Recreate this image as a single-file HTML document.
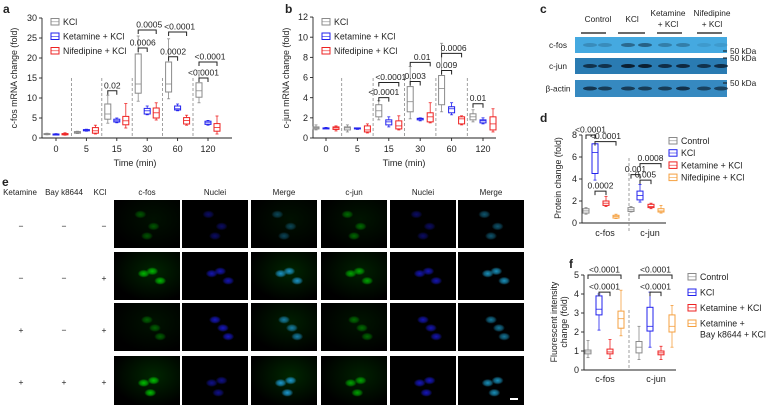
<!DOCTYPE html>
<html><head><meta charset="utf-8"><style>
body{margin:0;background:#fff;width:766px;height:405px;overflow:hidden;position:relative;font-family:"Liberation Sans",sans-serif}
svg{position:absolute;left:0;top:0}
text{font-family:"Liberation Sans",sans-serif;fill:#222}
.cell{position:absolute;background:#000;overflow:hidden}
</style></head><body>
<svg id="fig" width="766" height="405"></svg>
<div id="grid"></div>
<script>
// ---------- DATA ----------
const timeCats=["0","5","15","30","60","120"];
const seriesA_KCl=[[0.8,0.9,1,1.1,1.2],[1.1,1.2,1.4,1.6,1.7],[3.7,4.7,6,8.5,10.7],[9.2,11.2,13.5,21,25.5],[9.8,11.5,13.5,19,24.8],[8.8,10.2,11.8,13.8,16.9]];
const seriesA_Ket=[[0.9,1,1,1,1.1],[1.7,1.8,2,2.1,2.2],[3.8,4,4.3,4.7,5],[5.8,6,6.8,7.4,8],[6.8,7,7.3,8,8.5],[3.2,3.4,3.8,4.2,4.4]];
const seriesA_Nif=[[0.7,0.8,1,1.1,1.3],[1,1.2,1.8,2.6,3.2],[2.5,3.3,4.3,5.4,8.6],[4.5,5,6.3,7.5,8.8],[3.2,3.5,4.4,5.1,5.7],[1,1.7,2.6,3.6,5.5]];
const seriesB_KCl=[[0.8,0.9,1,1.1,1.3],[0.6,0.8,1,1.1,1.3],[1.8,2.1,2.7,3.3,3.7],[1.9,2.6,3.6,5.1,7.1],[2.6,3.3,4.9,6.2,9.4],[1.6,1.8,2.1,2.4,2.8]];
const seriesB_Ket=[[0.95,1,1,1,1.05],[0.85,0.9,0.95,1,1],[1.1,1.3,1.6,1.8,2.1],[1.7,1.8,1.9,1.95,2],[2.3,2.5,2.9,3.1,3.5],[1.4,1.5,1.7,1.8,2]];
const seriesB_Nif=[[0.7,0.85,1,1.1,1.2],[0.5,0.6,0.8,1.2,1.4],[0.8,0.9,1.2,1.7,2.2],[1.5,1.6,2.1,2.5,3.5],[1.3,1.4,1.9,2.1,2.2],[0.6,0.8,1.4,2.1,2.9]];
const protCats=["c-fos","c-jun"];
const seriesD_Ctrl=[[0.8,0.9,1.1,1.3,1.4],[1,1.05,1.2,1.4,1.5]];
const seriesD_KCl=[[3.9,4.5,6.4,7.2,7.2],[1.9,2.1,2.5,2.9,3.5]];
const seriesD_Ket=[[1.5,1.6,1.8,2,2.4],[1.3,1.4,1.5,1.7,1.8]];
const seriesD_Nif=[[0.4,0.45,0.6,0.7,0.8],[0.9,1,1.1,1.3,1.6]];
const seriesF_Ctrl=[[0.65,0.85,0.95,1.05,1.55],[0.55,0.9,1.2,1.5,2.3]];
const seriesF_KCl=[[2.1,2.9,3.2,3.9,4],[1.2,2.05,2.3,3.3,4.1]];
const seriesF_Ket=[[0.6,0.85,0.95,1.1,1.6],[0.55,0.8,0.9,1.0,1.25]];
const seriesF_Bay=[[1.8,2.2,2.7,3.1,4.2],[1.2,2,2.3,2.9,3.4]];
const ticksA=[0,5,10,15,20,25,30];
const ticksB=[0,2,4,6,8,10,12];
const ticksD=[0,2,4,6,8];
const ticksF=[0,1,2,3,4,5];
const bracketsA=[[2,0,1,11.8,"0.02"],[3,0,2,27,"0.0005"],[3,0,1,22.5,"0.0006"],[4,0,2,26.5,"<0.0001"],[4,0,1,20.3,"0.0002"],[5,0,2,19,"<0.0001"],[5,0,1,15,"<0.0001"]];
const bracketsB=[[2,0,2,5.5,"<0.0001"],[2,0,1,4,"<0.0001"],[3,0,2,7.5,"0.01"],[3,0,1,5.6,"0.003"],[4,0,2,8.4,"0.0006"],[4,0,1,6.7,"0.009"],[5,0,1,3.4,"0.01"]];
const bracketsD=[[0,0,1,8,"<0.0001"],[0,1,3,7.4,"<0.0001"],[0,1,2,2.9,"0.0002"],[1,0,1,4.4,"0.001"],[1,1,3,5.4,"0.0008"],[1,1,2,3.9,"0.005"]];
const bracketsF=[[0,0,3,5,"<0.0001"],[0,1,2,4.1,"<0.0001"],[1,0,3,5,"<0.0001"],[1,1,2,4.1,"<0.0001"]];

const NS="http://www.w3.org/2000/svg";
const svg=document.getElementById('fig');
function mk(tag,attrs,parent){const e=document.createElementNS(NS,tag);for(const k in attrs)e.setAttribute(k,attrs[k]);(parent||svg).appendChild(e);return e;}
function txt(x,y,s,size,anchor,parent,bold){const t=mk('text',{x:x,y:y,'font-size':size||8,'text-anchor':anchor||'middle'},parent);if(bold)t.setAttribute('font-weight','bold');t.textContent=s;return t;}
const GRAY='#8a8a8a',BLUE='#2222ee',RED='#ee2222',ORANGE='#f5a040';

function boxplot(g,xc,ys,d,color,w){
  const [mn,q1,md,q3,mx]=d.map(ys);
  mk('line',{x1:xc,x2:xc,y1:mx,y2:q3,stroke:color,'stroke-width':0.8},g);
  mk('line',{x1:xc,x2:xc,y1:q1,y2:mn,stroke:color,'stroke-width':0.8},g);
  mk('line',{x1:xc-w/4,x2:xc+w/4,y1:mx,y2:mx,stroke:color,'stroke-width':0.8},g);
  mk('line',{x1:xc-w/4,x2:xc+w/4,y1:mn,y2:mn,stroke:color,'stroke-width':0.8},g);
  mk('rect',{x:xc-w/2,y:q3,width:w,height:Math.max(q1-q3,1),fill:'#fff',stroke:color,'stroke-width':1},g);
  mk('line',{x1:xc-w/2,x2:xc+w/2,y1:md,y2:md,stroke:color,'stroke-width':0.8},g);
}
function axisY(g,x,ys,ticks,x2){
  mk('line',{x1:x,x2:x,y1:ys(ticks[ticks.length-1]),y2:ys(0),stroke:'#222','stroke-width':0.9},g);
  ticks.forEach(t=>{mk('line',{x1:x-3,x2:x,y1:ys(t),y2:ys(t),stroke:'#222','stroke-width':0.9},g);txt(x-5,ys(t)+3.2,String(t),9,'end',g);});
  mk('line',{x1:x,x2:x2,y1:ys(0),y2:ys(0),stroke:'#222','stroke-width':0.9},g);
}
function bracket(g,x1,x2,y,label,lx){
  mk('path',{d:`M${x1} ${y+4}V${y}H${x2}V${y+4}`,fill:'none',stroke:'#222','stroke-width':1},g);
  txt(lx!==undefined?lx:(x1+x2)/2,y-2.5,label,8.5,'middle',g);
}
function legend(g,x,y0,dy,items){
  items.forEach((it,i)=>{const y=y0+i*dy;
    mk('rect',{x:x,y:y-4.5,width:8,height:6.5,fill:'#fff',stroke:it[1],'stroke-width':1},g);
    mk('line',{x1:x,x2:x+8,y1:y-1.2,y2:y-1.2,stroke:it[1],'stroke-width':0.6},g);
    it[0].split('\n').forEach((s,j)=>txt(x+12,y+2+j*11,s,8.8,'start',g));});
}
function rotLabel(g,x,y,lines){lines.forEach((s,j)=>{const t=txt(0,0,s,8.8,'middle',g);t.setAttribute('transform',`translate(${x+j*10},${y}) rotate(-90)`);});}

// ---------- PANEL A ----------
(function(){
  const g=mk('g',{});
  txt(3,13,'a',12,'start',g,true);
  const ys=v=>138-v*4;const xs=i=>56+i*30.4;
  axisY(g,42,ys,ticksA,232);
  timeCats.forEach((c,i)=>{txt(xs(i),152,c,9,'middle',g);mk('line',{x1:xs(i),x2:xs(i),y1:138,y2:141,stroke:'#222','stroke-width':0.9},g);
    if(i>0)mk('line',{x1:xs(i)-15,x2:xs(i)-15,y1:78,y2:138,stroke:'#888','stroke-dasharray':'3,2','stroke-width':0.8},g);
    boxplot(g,xs(i)-9,ys,seriesA_KCl[i],GRAY,6);boxplot(g,xs(i),ys,seriesA_Ket[i],BLUE,6);boxplot(g,xs(i)+9,ys,seriesA_Nif[i],RED,6);});
  bracketsA.forEach(b=>bracket(g,xs(b[0])+(b[1]-1)*9,xs(b[0])+(b[2]-1)*9,ys(b[3]),b[4],b[2]==2?xs(b[0])+2:undefined));
  txt(135,166,'Time (min)',9,'middle',g);
  rotLabel(g,17,78,['c-fos mRNA change (fold)']);
  legend(g,51,23,14.5,[['KCl',GRAY],['Ketamine + KCl',BLUE],['Nifedipine + KCl',RED]]);
})();
// ---------- PANEL B ----------
(function(){
  const g=mk('g',{});
  txt(285,13,'b',12,'start',g,true);
  const ys=v=>138-v*10.08;const xs=i=>326+i*31.4;
  axisY(g,313,ys,ticksB,496);
  timeCats.forEach((c,i)=>{txt(xs(i),152,c,9,'middle',g);mk('line',{x1:xs(i),x2:xs(i),y1:138,y2:141,stroke:'#222','stroke-width':0.9},g);
    if(i>0)mk('line',{x1:xs(i)-15.7,x2:xs(i)-15.7,y1:78,y2:138,stroke:'#888','stroke-dasharray':'3,2','stroke-width':0.8},g);
    boxplot(g,xs(i)-10,ys,seriesB_KCl[i],GRAY,6);boxplot(g,xs(i),ys,seriesB_Ket[i],BLUE,6);boxplot(g,xs(i)+10,ys,seriesB_Nif[i],RED,6);});
  bracketsB.forEach(b=>bracket(g,xs(b[0])+(b[1]-1)*10,xs(b[0])+(b[2]-1)*10,ys(b[3]),b[4],b[2]==2?xs(b[0])+2:undefined));
  txt(404,166,'Time (min)',9,'middle',g);
  rotLabel(g,289,78,['c-jun mRNA change (fold)']);
  legend(g,322,23,14.5,[['KCl',GRAY],['Ketamine + KCl',BLUE],['Nifedipine + KCl',RED]]);
})();
// ---------- PANEL C (blot) ----------
(function(){
  const g=mk('g',{});
  txt(540,13,'c',12,'start',g,true);
  txt(598,22,'Control',8.3,'middle',g);txt(632,22,'KCl',8.3,'middle',g);
  txt(668,16,'Ketamine',8.3,'middle',g);txt(668,27,'+ KCl',8.3,'middle',g);
  txt(712,16,'Nifedipine',8.3,'middle',g);txt(712,27,'+ KCl',8.3,'middle',g);
  [[581,606],[618,645],[657,682],[697,722]].forEach(p=>mk('line',{x1:p[0],x2:p[1],y1:33,y2:33,stroke:'#111','stroke-width':1.2},g));
  const rows=[['c-fos',37,16,'#45a9e0'],['c-jun',58,16,'#2a7bb2'],['β-actin',80,17,'#3689c0']];
  const lanes=[584,599,622,639,659,677,698,715];
  const inten=[[0.2,0.2,0.45,0.5,0.3,0.3,0.1,0.1],[0.75,0.75,0.95,0.95,0.8,0.85,0.75,0.8],[0.75,0.7,0.7,0.7,0.7,0.8,0.65,0.65]];
  rows.forEach((r,ri)=>{
    mk('rect',{x:575,y:r[1],width:152,height:r[2],fill:r[3]},g);
    txt(558,r[1]+r[2]/2+3,r[0],8.3,'middle',g);
    lanes.forEach((lx,li)=>mk('ellipse',{cx:lx+6,cy:r[1]+r[2]/2,rx:7,ry:2,fill:'#0a1a2a',opacity:inten[ri][li]},g));
  });
  [[52,'50 kDa'],[59,'50 kDa'],[84,'50 kDa']].forEach(k=>{mk('line',{x1:723,x2:727,y1:k[0]-1,y2:k[0]-1,stroke:'#111'},g);txt(730,k[0]+2,k[1],8.3,'start',g);});
})();
// ---------- PANEL D ----------
(function(){
  const g=mk('g',{});
  txt(540,122,'d',12,'start',g,true);
  const ys=v=>223-v*11;const xs=i=>596+i*45;const off=[-10,-1,10,20];
  axisY(g,582,ys,ticksD,666);
  mk('line',{x1:629,x2:629,y1:158,y2:232,stroke:'#888','stroke-dasharray':'3,2','stroke-width':0.8},g);
  protCats.forEach((c,i)=>{txt(xs(i)+9,236,c,9,'middle',g);
    boxplot(g,xs(i)+off[0],ys,seriesD_Ctrl[i],GRAY,6);boxplot(g,xs(i)+off[1],ys,seriesD_KCl[i],BLUE,6);
    boxplot(g,xs(i)+off[2],ys,seriesD_Ket[i],RED,6);boxplot(g,xs(i)+off[3],ys,seriesD_Nif[i],ORANGE,6);});
  bracketsD.forEach(b=>bracket(g,xs(b[0])+off[b[1]],xs(b[0])+off[b[2]],ys(b[3]),b[4]));
  rotLabel(g,561,178,['Protein change (fold)']);
  legend(g,669,142,12.2,[['Control',GRAY],['KCl',BLUE],['Ketamine + KCl',RED],['Nifedipine + KCl',ORANGE]]);
})();
// ---------- PANEL F ----------
(function(){
  const g=mk('g',{});
  txt(569,268,'f',12,'start',g,true);
  const ys=v=>370-v*19;const xs=i=>593+i*51;const off=[-5,6,17,28];
  axisY(g,584,ys,ticksF,676);
  mk('line',{x1:629,x2:629,y1:310,y2:370,stroke:'#888','stroke-dasharray':'3,2','stroke-width':0.8},g);
  protCats.forEach((c,i)=>{txt(xs(i)+12,382,c,9,'middle',g);
    boxplot(g,xs(i)+off[0],ys,seriesF_Ctrl[i],GRAY,6);boxplot(g,xs(i)+off[1],ys,seriesF_KCl[i],BLUE,6);
    boxplot(g,xs(i)+off[2],ys,seriesF_Ket[i],RED,6);boxplot(g,xs(i)+off[3],ys,seriesF_Bay[i],ORANGE,6);});
  bracketsF.forEach(b=>bracket(g,xs(b[0])+off[b[1]],xs(b[0])+off[b[2]],ys(b[3]),b[4]));
  rotLabel(g,557,322,['Fluorescent intensity','change (fold)']);
  legend(g,688,278,15.5,[['Control',GRAY],['KCl',BLUE],['Ketamine + KCl',RED],['Ketamine +\nBay k8644 + KCl',ORANGE]]);
})();
// ---------- PANEL E labels ----------
(function(){
  const g=mk('g',{});
  txt(2,186,'e',12,'start',g,true);
  txt(20,195,'Ketamine',8,'middle',g);txt(64,195,'Bay k8644',8,'middle',g);txt(100,195,'KCl',8,'middle',g);
  const heads=['c-fos','Nuclei','Merge','c-jun','Nuclei','Merge'],cx=[147,215,284,354,423,491];
  heads.forEach((h,i)=>txt(cx[i],195,h,8,'middle',g));
  const signs=[['−','−','−'],['−','−','+'],['+','−','+'],['+','+','+']],rc=[226,278,330,382];
  signs.forEach((r,i)=>r.forEach((s,j)=>txt([21,64,104][j],rc[i]+3,s,8.5,'middle',g)));
})();
// ---------- PANEL E cells ----------
(function(){
  const grid=document.getElementById('grid');
  const colX=[114,182,251,321,390,458],rowY=[200,252,303,356];
  const colors=[[0,200,0],[30,30,255],[30,160,220],[0,200,0],[30,30,255],[30,170,220]];
  const bright=[[0.4,0.4,0.4,0.5,0.4,0.5],[0.9,0.7,0.9,0.8,0.7,0.85],[0.45,0.75,0.75,0.5,0.7,0.7],[0.95,0.55,0.95,0.8,0.75,0.85]];
  const spots=[[[40,30],[60,55],[50,75]],[[45,45],[58,40],[70,60]],[[50,35],[62,52],[70,70]],[[45,55],[60,50],[55,75]]];
  rowY.forEach((y,ri)=>colX.forEach((x,ci)=>{
    const d=document.createElement('div');d.className='cell';
    
    
    const c=colors[ci],b=bright[ri][ci];
    const sp=spots[ri].map(p=>`radial-gradient(ellipse 6px 4px at ${p[0]}% ${p[1]}%, rgba(${c[0]},${c[1]},${c[2]},${b}) 0%, rgba(${c[0]},${c[1]},${c[2]},${b*0.6}) 60%, transparent 100%)`).join(',');
    const glow=(ci===0||ci===2||ci===3)?`,radial-gradient(ellipse at 60% 40%, rgba(0,100,0,${b*0.4}), transparent 75%)`:'';
    d.style.cssText=`left:${x}px;top:${y}px;width:66px;height:${ri==3?49:48}px;background:${sp}${glow},#000;`;
    grid.appendChild(d);
  }));
  const sb=document.createElement('div');sb.style.cssText='position:absolute;left:510px;top:398px;width:8px;height:2px;background:#fff';
  
  
  grid.appendChild(sb);
})();
</script>
</body></html>
